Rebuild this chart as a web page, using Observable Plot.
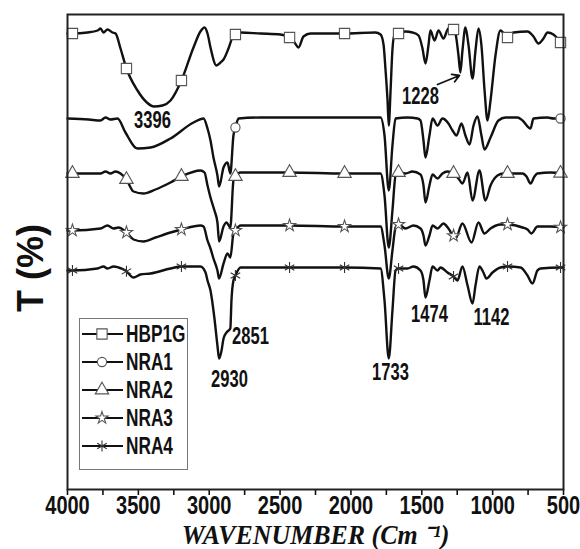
<!DOCTYPE html>
<html><head><meta charset="utf-8">
<script src="https://cdn.jsdelivr.net/npm/d3@7"></script>
<script src="https://cdn.jsdelivr.net/npm/@observablehq/plot@0.6"></script>
<style>
body{margin:0;background:#fff;}
#chart{width:580px;height:549px;}
</style></head><body><div id="chart"></div>
<script>
// ---------- data (wavenumber cm-1, transmittance offset) ----------
const seriesNames = ["HBP1G","NRA1","NRA2","NRA3","NRA4"];
const HBP1G = [[4000,91.2],[3965,91.2],[3859,91.4],[3788,91.8],[3767,92.2],[3746,91.4],[3718,92.0],[3682,91.4],[3661,91.2],[3626,88.2],[3584,84.2],[3506,79.8],[3440,77.4],[3390,76.6],[3330,76.8],[3273,77.8],[3196,81.8],[3111,88.4],[3062,91.6],[3033,92.4],[3012,91.2],[2991,88.4],[2949,84.8],[2920,85.4],[2899,86.0],[2864,88.2],[2829,90.8],[2815,91.0],[2779,91.4],[2638,91.2],[2497,91.0],[2433,90.4],[2398,89.4],[2370,88.4],[2335,90.6],[2285,91.2],[2045,91.2],[1827,91.4],[1791,91.0],[1770,89.0],[1756,84.0],[1742,78.0],[1733,72.8],[1720,80.0],[1707,88.0],[1692,91.0],[1664,91.2],[1615,91.6],[1566,91.4],[1523,90.8],[1495,88.2],[1474,85.2],[1453,88.8],[1439,91.8],[1410,89.8],[1382,91.8],[1347,90.2],[1312,92.2],[1276,92.0],[1262,91.2],[1241,86.8],[1228,83.4],[1213,87.8],[1192,92.4],[1170,88.8],[1142,82.2],[1121,87.8],[1100,92.2],[1079,88.8],[1057,79.8],[1036,73.8],[1015,77.8],[980,86.8],[945,91.8],[895,90.4],[853,91.4],[754,91.6],[712,90.6],[677,89.2],[641,90.2],[613,91.4],[571,91.0],[542,90.2],[521,89.4],[500,89.4]];
const NRA1 = [[4000,74.2],[3850,74.0],[3767,73.8],[3732,74.4],[3697,74.0],[3647,74.2],[3591,71.4],[3506,68.2],[3414,68.4],[3273,70.2],[3111,73.4],[3040,74.2],[3012,72.2],[2991,69.8],[2970,66.4],[2942,62.8],[2930,60.6],[2899,64.4],[2871,65.4],[2851,63.2],[2829,70.8],[2815,72.4],[2793,74.2],[2638,74.4],[2144,74.4],[1791,74.4],[1763,70.8],[1733,59.8],[1707,68.8],[1685,74.2],[1601,74.4],[1530,74.2],[1509,73.8],[1488,69.8],[1474,66.4],[1446,70.8],[1424,74.2],[1389,72.8],[1354,74.2],[1312,73.2],[1283,71.8],[1255,70.8],[1220,73.2],[1192,70.8],[1163,69.0],[1135,72.8],[1107,74.6],[1079,70.8],[1058,68.0],[1015,70.4],[959,73.8],[909,74.4],[825,74.4],[789,73.8],[733,72.2],[712,74.2],[613,74.4],[571,74.2],[500,74.2]];
const NRA2 = [[4000,63.2],[3965,63.2],[3767,63.2],[3732,63.6],[3697,63.2],[3661,63.6],[3626,63.2],[3584,62.0],[3534,59.6],[3464,59.2],[3379,60.0],[3273,61.4],[3196,62.6],[3062,63.8],[3033,63.4],[3012,60.8],[2991,58.4],[2963,55.8],[2942,53.4],[2930,49.6],[2899,52.6],[2878,53.4],[2851,52.4],[2829,61.8],[2815,62.6],[2779,63.4],[2433,63.4],[2045,63.2],[1791,63.2],[1763,58.8],[1733,48.4],[1707,55.8],[1685,62.8],[1664,63.4],[1615,63.2],[1566,63.6],[1509,63.0],[1488,60.8],[1474,57.4],[1446,60.8],[1424,63.0],[1389,62.2],[1354,63.2],[1319,63.6],[1276,63.2],[1241,62.2],[1213,61.2],[1177,63.4],[1142,57.8],[1093,63.8],[1051,57.8],[1015,60.8],[966,62.8],[923,63.2],[789,63.2],[761,62.6],[733,61.2],[705,62.6],[684,63.2],[592,63.4],[500,63.2]];
const NRA3 = [[4000,51.8],[3965,51.8],[3767,52.2],[3718,52.8],[3675,52.2],[3640,52.4],[3584,51.4],[3534,50.0],[3464,49.6],[3379,50.4],[3273,51.4],[3196,52.0],[3062,52.8],[3040,52.6],[3012,49.8],[2991,48.2],[2970,46.2],[2942,43.8],[2930,42.2],[2899,45.2],[2871,47.2],[2851,46.4],[2829,51.2],[2815,51.8],[2779,52.8],[2433,52.8],[2045,52.6],[1791,52.6],[1763,48.8],[1733,42.2],[1707,47.8],[1685,52.4],[1664,53.0],[1615,52.2],[1559,52.8],[1509,52.2],[1488,50.8],[1474,48.8],[1446,50.8],[1424,52.8],[1389,52.2],[1347,53.2],[1312,52.2],[1262,50.2],[1213,53.2],[1149,49.4],[1100,53.4],[1058,51.2],[1015,52.2],[945,53.0],[895,53.0],[789,52.4],[754,52.0],[726,51.2],[684,52.6],[592,52.6],[500,52.4]];
const NRA4 = [[4000,43.8],[3965,43.8],[3788,44.2],[3746,44.6],[3718,44.2],[3675,44.6],[3640,44.4],[3591,43.8],[3534,42.4],[3485,43.0],[3414,43.2],[3273,44.2],[3196,44.6],[3062,44.6],[3026,43.4],[3012,41.8],[2991,39.8],[2963,34.2],[2942,28.8],[2930,26.2],[2913,27.8],[2899,30.2],[2878,31.4],[2851,32.2],[2843,37.8],[2829,41.8],[2815,42.8],[2779,44.4],[2433,44.4],[2045,44.4],[1791,44.2],[1763,37.8],[1733,26.2],[1707,35.8],[1685,43.8],[1664,44.2],[1601,44.2],[1559,44.6],[1509,43.8],[1488,41.8],[1474,38.4],[1446,41.8],[1424,44.6],[1389,43.8],[1368,44.4],[1319,43.4],[1276,42.6],[1248,41.8],[1213,44.6],[1177,40.8],[1142,37.2],[1121,40.8],[1093,44.6],[1065,43.4],[1044,42.2],[1001,43.4],[945,44.4],[895,44.6],[803,44.4],[754,42.8],[719,41.2],[684,43.8],[662,44.2],[521,44.4],[500,44.4]];
const seriesData = {HBP1G, NRA1, NRA2, NRA3, NRA4};
const seriesSymbols = ["square","circle","triangle","star","asterisk"];
const markerWavenumbers = [3965,3584,3196,2815,2433,2045,1664,1276,895,521];
const markerWavenumbersNRA1 = [2815,521];
const xTicks = [4000,3750,3500,3250,3000,2750,2500,2250,2000,1750,1500,1250,1000,750,500];
const xTickLabels = [4000,3500,3000,2500,2000,1500,1000,500];
const peakLabels = [
  {label:"3396", w:3400, T:73.8},
  {label:"2930", w:2857, T:22.0},
  {label:"2851", w:2709, T:30.6},
  {label:"1733", w:1721, T:23.4},
  {label:"1474", w:1446, T:35.0},
  {label:"1142", w:1008, T:34.4},
  {label:"1228", w:1509, T:78.6}
];
const arrows = [{w1:1389, T1:81.0, w2:1234, T2:82.8}];
const xTitle = "WAVENUMBER (Cm ⁻¹)";
const yTitle = "T (%)";

// ---------- fonts ----------
const SANS = '"Liberation Sans", Arial, sans-serif';
const SERIF = '"Liberation Serif", "Times New Roman", serif';

// ---------- helpers ----------
function interp(series, w){
  for (let i = 0; i < series.length - 1; i++){
    const [w0,t0] = series[i], [w1,t1] = series[i+1];
    if (w <= w0 && w >= w1) return t0 + (t1 - t0) * (w - w0) / (w1 - w0);
  }
  return series[series.length-1][1];
}
const rows = seriesNames.flatMap(name => seriesData[name].map(([w,T]) => ({series:name, w, T})));
const markerSizes = {square:5.8, circle:4.6, triangle:5.0, star:3.8, asterisk:5.2};
const dotMarks = seriesNames.map((name, i) => {
  const ws = name === "NRA1" ? markerWavenumbersNRA1 : markerWavenumbers;
  const pts = ws.map(w => ({w, T: interp(seriesData[name], w)}));
  const sym = seriesSymbols[i];
  return Plot.dot(pts, {x:"w", y:"T", symbol: sym, r: markerSizes[sym], fill: sym === "asterisk" ? "none" : "white", stroke: sym === "asterisk" ? "#333" : "#555", strokeWidth: 1.1});
});

const plot = Plot.plot({
  width: 580, height: 549,
  marginLeft: 67, marginRight: 17, marginTop: 14, marginBottom: 60,
  x: {domain: [4000, 500], label: null},
  y: {domain: [0, 95], axis: null},
  style: {background: "white", color: "#111", fontFamily: SANS, overflow: "visible"},
  marks: [
    Plot.axisX({ticks: xTicks, tickSize: 6, tickPadding: 1, strokeWidth: 1.6,
      tickFormat: d => xTickLabels.includes(d) ? String(d) : "",
      fontSize: 25, fontWeight: "bold", fontFamily: SANS, label: null}),
    Plot.line(rows, {x: "w", y: "T", z: "series", stroke: "#111", strokeWidth: 2.4, curve: "monotone-x"}),
    ...dotMarks,
    Plot.frame({stroke: "#222", strokeWidth: 2}),
    Plot.text(peakLabels, {x: "w", y: "T", text: "label", fontSize: 23, fontWeight: "bold", fontFamily: SANS, fill: "#111"}),
    Plot.arrow(arrows, {x1: "w1", y1: "T1", x2: "w2", y2: "T2", stroke: "#111", strokeWidth: 1.8, headLength: 9}),
    Plot.text([yTitle], {frameAnchor: "left", dx: -36, dy: 16, rotate: -90, textAnchor: "middle", lineAnchor: "middle", fontSize: 36, fontWeight: "bold", fontFamily: SANS, fill: "#111"}),
    Plot.text([xTitle], {frameAnchor: "bottom", dy: 46, lineAnchor: "middle", fontSize: 27, fontWeight: "bold", fontStyle: "italic", fontFamily: SERIF, fill: "#111"})
  ]
});

// horizontal condensing of the printed labels (the original figure uses a narrow face)
const squeezeOf = new Map([
  ...xTickLabels.map(d => [String(d), 0.8]),
  ...peakLabels.map(d => [d.label, 0.72]),
  [xTitle, 0.96]
]);
plot.querySelectorAll("text").forEach(t => {
  const k = squeezeOf.get(t.textContent.trim());
  if (k) t.setAttribute("transform", (t.getAttribute("transform") || "") + ` scale(${k},1)`);
});

// legend
const svg = d3.select(plot);
const lg = svg.append("g").attr("aria-label", "legend");
lg.append("rect").attr("x", 79.5).attr("y", 318.5).attr("width", 108).attr("height", 151)
  .attr("fill", "white").attr("stroke", "#777").attr("stroke-width", 1);
const d3sym = {square: d3.symbolSquare, circle: d3.symbolCircle, triangle: d3.symbolTriangle, star: d3.symbolStar, asterisk: d3.symbolAsterisk};
seriesNames.forEach((name, i) => {
  const y = 334 + i * 28;
  const sym = seriesSymbols[i];
  lg.append("line").attr("x1", 82).attr("x2", 123).attr("y1", y).attr("y2", y).attr("stroke", "#111").attr("stroke-width", 2);
  lg.append("path").attr("transform", `translate(102,${y})`)
    .attr("d", d3.symbol(d3sym[sym], Math.PI * markerSizes[sym] ** 2)())
    .attr("fill", sym === "asterisk" ? "none" : "white").attr("stroke", sym === "asterisk" ? "#333" : "#555").attr("stroke-width", 1.1);
  lg.append("text").attr("transform", `translate(126,${y}) scale(0.75,1)`).attr("dy", "0.36em")
    .attr("text-anchor", "start")
    .attr("font-family", SANS).attr("font-size", 23).attr("font-weight", "bold").attr("fill", "#111").text(name);
});

document.getElementById("chart").appendChild(plot);
</script></body></html>
